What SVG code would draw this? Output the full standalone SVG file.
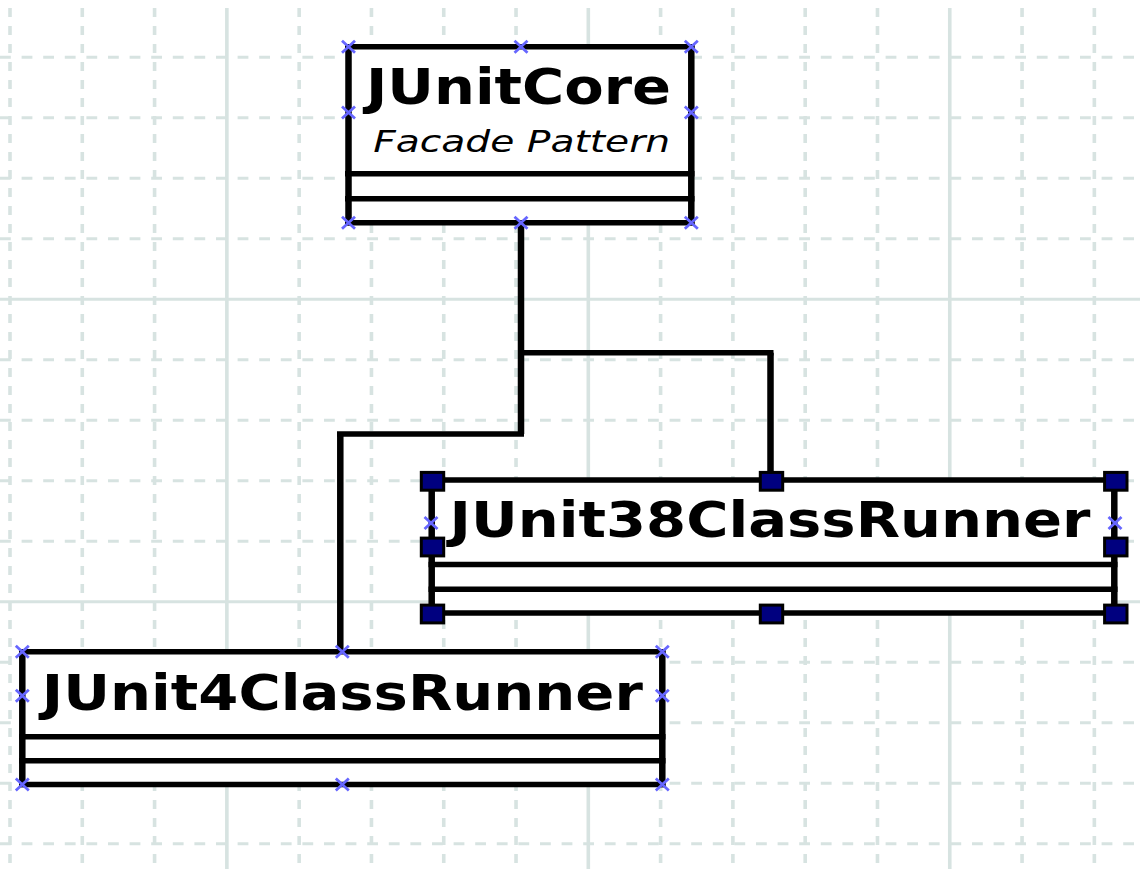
<svg xmlns="http://www.w3.org/2000/svg" width="1140" height="869" viewBox="0 0 1140 869">
  <style>
    .grid-v { stroke: #d7e3e1; stroke-width: 3.6; fill: none; stroke-dasharray: 9 9; }
    .grid-h { stroke: #d7e3e1; stroke-width: 3; fill: none; stroke-dasharray: 10.8 10.8; }
    .grid-vm { stroke: #d7e3e1; stroke-width: 3.6; fill: none; }
    .grid-hm { stroke: #d7e3e1; stroke-width: 3; fill: none; }
    .edge-h { stroke: #000; stroke-width: 5.5; fill: none; }
    .edge-v { stroke: #000; stroke-width: 6.5; fill: none; }
    .box { fill: #fff; }
    .name { font-family: "DejaVu Sans", "Liberation Sans", sans-serif; font-weight: bold; font-size: 49px; fill: #000; }
    .stereo { font-family: "DejaVu Sans", "Liberation Sans", sans-serif; font-style: oblique; font-size: 30px; fill: #000; }
    .cp { stroke: #6666ff; stroke-width: 2.8; fill: none; }
    .handle { fill: #00007f; stroke: #000; stroke-width: 3; }
  </style>
  <defs>
    <path id="cpx" class="cp" d="M-6.5,-6 L6.5,6 M-6.5,6 L6.5,-6"/>
    <rect id="hdl" class="handle" x="-11.2" y="-8.9" width="22.4" height="17.8"/>
  </defs>

  <rect width="1140" height="869" fill="#fff"/>

  <!-- background grid: minor dashed lines, major solid every fifth -->
  <g id="grid">
    <path class="grid-v" d="M10,8V869 M82.29,8V869 M154.58,8V869 M299.16,8V869 M371.45,8V869 M443.74,8V869 M516.03,8V869 M660.61,8V869 M732.9,8V869 M805.19,8V869 M877.48,8V869 M1022.06,8V869 M1094.35,8V869"/>
    <path class="grid-vm" d="M226.87,8V869 M588.32,8V869 M949.77,8V869"/>
    <path class="grid-h" d="M0,57.3H1140 M0,117.8H1140 M0,178.3H1140 M0,238.8H1140 M0,359.8H1140 M0,420.3H1140 M0,480.8H1140 M0,541.3H1140 M0,662.3H1140 M0,722.8H1140 M0,783.3H1140 M0,843.8H1140"/>
    <path class="grid-hm" d="M0,299.3H1140 M0,601.8H1140"/>
  </g>

  <!-- associations from JUnitCore down to the two runners -->
  <g id="connectors">
    <path class="edge-v" d="M521,222.5V352.8 M770.5,352.8V480 M521,352.8V434 M340.3,434V652"/>
    <path class="edge-h" d="M518,352.8H773.5 M524,434H337"/>
  </g>

  <g id="node-junitcore">
    <rect class="box" x="348.5" y="46.7" width="342.8" height="176"/>
    <path class="edge-h" d="M345,46.7H694.5 M345,173.8H694.5 M345,198.8H694.5 M345,222.7H694.5"/>
    <path class="edge-v" d="M348.5,44V225.5 M691.3,44V225.5"/>
    <text class="name" x="518.5" y="103.5" text-anchor="middle" textLength="305" lengthAdjust="spacingAndGlyphs">JUnitCore</text>
    <text class="stereo" x="521.7" y="151.7" text-anchor="middle" textLength="297" lengthAdjust="spacingAndGlyphs">Facade Pattern</text>
    <use href="#cpx" x="348.5" y="46.7"/>
    <use href="#cpx" x="521" y="46.7"/>
    <use href="#cpx" x="691.3" y="46.7"/>
    <use href="#cpx" x="348.5" y="112.5"/>
    <use href="#cpx" x="691.3" y="112.5"/>
    <use href="#cpx" x="348.5" y="222.7"/>
    <use href="#cpx" x="521" y="222.7"/>
    <use href="#cpx" x="691.3" y="222.7"/>
  </g>

  <g id="node-junit38">
    <rect class="box" x="431.7" y="480" width="682.6" height="133"/>
    <path class="edge-h" d="M428.5,480H1117.5 M428.5,564.5H1117.5 M428.5,589.3H1117.5 M428.5,613H1117.5"/>
    <path class="edge-v" d="M431.7,477.3V615.8 M1114.3,477.3V615.8"/>
    <text class="name" x="770" y="536.7" text-anchor="middle" textLength="641" lengthAdjust="spacingAndGlyphs">JUnit38ClassRunner</text>
    <use href="#cpx" x="431" y="523"/>
    <use href="#cpx" x="1115" y="523"/>
    <!-- selection handles -->
    <use href="#hdl" x="432.5" y="481.3"/>
    <use href="#hdl" x="771.5" y="481.3"/>
    <use href="#hdl" x="1115.8" y="481.3"/>
    <use href="#hdl" x="432.5" y="547"/>
    <use href="#hdl" x="1115.8" y="547"/>
    <use href="#hdl" x="432.5" y="614"/>
    <use href="#hdl" x="771.5" y="614"/>
    <use href="#hdl" x="1115.8" y="614"/>
  </g>

  <g id="node-junit4">
    <rect class="box" x="22.3" y="651.8" width="640" height="132.7"/>
    <path class="edge-h" d="M19,651.8H665.5 M19,736.8H665.5 M19,760.8H665.5 M19,784.5H665.5"/>
    <path class="edge-v" d="M22.3,649V787.3 M662.3,649V787.3"/>
    <text class="name" x="342.3" y="710" text-anchor="middle" textLength="601" lengthAdjust="spacingAndGlyphs">JUnit4ClassRunner</text>
    <use href="#cpx" x="22.3" y="651.8"/>
    <use href="#cpx" x="342.3" y="651.8"/>
    <use href="#cpx" x="662.3" y="651.8"/>
    <use href="#cpx" x="22.3" y="695.8"/>
    <use href="#cpx" x="662.3" y="695.8"/>
    <use href="#cpx" x="22.3" y="784.5"/>
    <use href="#cpx" x="342.3" y="784.5"/>
    <use href="#cpx" x="662.3" y="784.5"/>
  </g>
</svg>
